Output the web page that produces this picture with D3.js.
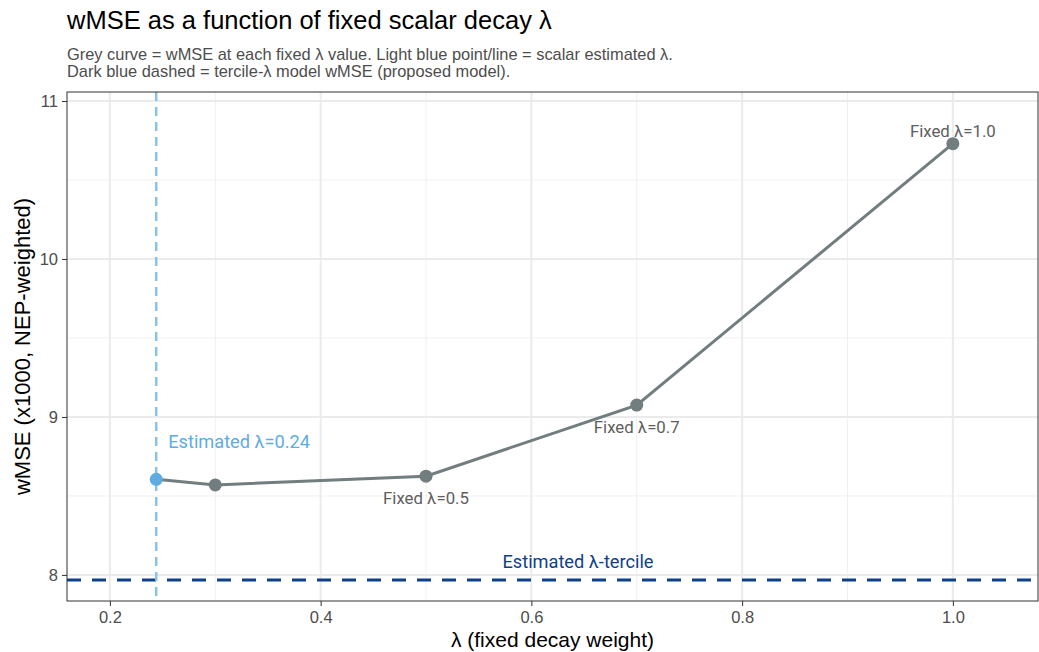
<!DOCTYPE html>
<html>
<head>
<meta charset="utf-8">
<script src="https://cdn.jsdelivr.net/npm/d3@7"></script>
<style>
  body { margin: 0; background: #fff; }
  svg { display: block; font-family: "Liberation Sans", Arial, sans-serif; }
</style>
</head>
<body>
<svg id="chart" width="1039" height="652"></svg>
<script>
// fixed lambda grid and the wMSE
const fixedLambda = [0.3, 0.5, 0.7, 1.0];
const fixedWmse = [8.57, 8.625, 9.075, 10.73];
const estLambda = [0.244];
const estWmse = [8.605];
const tercileWmse = [7.968];
const labelled = [
  { lambda: 0.5, text: "Fixed λ=0.5", pos: "below" },
  { lambda: 0.7, text: "Fixed λ=0.7", pos: "below" },
  { lambda: 1.0, text: "Fixed λ=1.0", pos: "above" }
];
const xTicks = [0.2, 0.4, 0.6, 0.8, 1.0];
const xMinor = [0.3, 0.5, 0.7, 0.9];
const yTicks = [8, 9, 10, 11];
const yMinor = [8.5, 9.5, 10.5];

const svg = d3.select("#chart");
const m = { left: 67, right: 1038, top: 92, bottom: 601 };

const x = d3.scaleLinear().domain([0.1593, 1.0808]).range([m.left, m.right]);
const y = d3.scaleLinear().domain([7.835, 11.057]).range([m.bottom, m.top]);

// curve points: scalar estimate first, then fixed lambdas
const curve = estLambda.map((l, i) => ({ lambda: l, wmse: estWmse[i] }))
  .concat(fixedLambda.map((l, i) => ({ lambda: l, wmse: fixedWmse[i] })));

const grid = svg.append("g");
grid.selectAll(".ymin").data(yMinor).join("line")
  .attr("x1", m.left).attr("x2", m.right)
  .attr("y1", d => y(d)).attr("y2", d => y(d))
  .attr("stroke", "#f0f0f0").attr("stroke-width", 1);
grid.selectAll(".xmin").data(xMinor).join("line")
  .attr("y1", m.top).attr("y2", m.bottom)
  .attr("x1", d => x(d)).attr("x2", d => x(d))
  .attr("stroke", "#f0f0f0").attr("stroke-width", 1);
grid.selectAll(".ymaj").data(yTicks).join("line")
  .attr("x1", m.left).attr("x2", m.right)
  .attr("y1", d => y(d)).attr("y2", d => y(d))
  .attr("stroke", "#ebebeb").attr("stroke-width", 2);
grid.selectAll(".xmaj").data(xTicks).join("line")
  .attr("y1", m.top).attr("y2", m.bottom)
  .attr("x1", d => x(d)).attr("x2", d => x(d))
  .attr("stroke", "#ebebeb").attr("stroke-width", 2);

// tercile-lambda model reference
svg.append("line")
  .attr("x1", m.left).attr("x2", m.right)
  .attr("y1", y(tercileWmse[0])).attr("y2", y(tercileWmse[0]))
  .attr("stroke", "#0e3f8a").attr("stroke-width", 3)
  .attr("stroke-dasharray", "14,11");

// scalar estimate vline
svg.append("line")
  .attr("x1", x(estLambda[0])).attr("x2", x(estLambda[0]))
  .attr("y1", m.top).attr("y2", m.bottom)
  .attr("stroke", "#85c1e9").attr("stroke-width", 2.4)
  .attr("stroke-dasharray", "9,6");

svg.append("path")
  .datum(curve)
  .attr("fill", "none")
  .attr("stroke", "#717d7e")
  .attr("stroke-width", 3)
  .attr("d", d3.line().x(d => x(d.lambda)).y(d => y(d.wmse)));

svg.selectAll(".pt").data(fixedLambda).join("circle")
  .attr("cx", d => x(d))
  .attr("cy", (d, i) => y(fixedWmse[i]))
  .attr("r", 6.5)
  .attr("fill", "#717d7e");

svg.append("circle")
  .attr("cx", x(estLambda[0])).attr("cy", y(estWmse[0]))
  .attr("r", 6.5).attr("fill", "#5dade2");

// annotations
const lab = svg.append("g").attr("font-family", "Roboto, sans-serif").attr("font-size", 16.8);
labelled.forEach(l => {
  const i = fixedLambda.indexOf(l.lambda);
  lab.append("text")
    .attr("x", x(l.lambda))
    .attr("y", y(fixedWmse[i]) + (l.pos === "below" ? 28 : -7))
    .attr("text-anchor", "middle")
    .attr("fill", "#5e5e5e")
    .text(l.text);
});
lab.append("text")
  .attr("x", x(estLambda[0]) + 12).attr("y", 448)
  .attr("fill", "#5dade2").attr("font-size", 18.2)
  .text("Estimated λ=0.24");
lab.append("text")
  .attr("x", 578).attr("y", y(tercileWmse[0]) - 12)
  .attr("text-anchor", "middle")
  .attr("fill", "#0e3f8a").attr("font-size", 18.2)
  .text("Estimated λ-tercile");

// panel border
svg.append("rect")
  .attr("x", m.left).attr("y", m.top)
  .attr("width", m.right - m.left).attr("height", m.bottom - m.top)
  .attr("fill", "none").attr("stroke", "#333").attr("stroke-width", 1);

// axes
const xAxis = svg.append("g").attr("transform", `translate(0,${m.bottom})`)
  .call(d3.axisBottom(x).tickValues(xTicks).tickFormat(d3.format(".1f")).tickSize(5));
const yAxis = svg.append("g").attr("transform", `translate(${m.left},0)`)
  .call(d3.axisLeft(y).tickValues(yTicks).tickFormat(d3.format("d")).tickSize(5));
[xAxis, yAxis].forEach(a => {
  a.select(".domain").remove();
  a.selectAll(".tick line").attr("stroke", "#333").attr("stroke-width", 1);
  a.selectAll(".tick text").attr("fill", "#4d4d4d")
    .attr("font-size", 16.5).attr("font-family", "Liberation Sans, Arial, sans-serif");
});
xAxis.selectAll(".tick text").attr("dy", "0.95em").attr("y", 6);
yAxis.selectAll(".tick text").attr("x", -9);

// titles
svg.append("text").attr("x", 67).attr("y", 29)
  .attr("font-size", 25.5).attr("fill", "#000")
  .text("wMSE as a function of fixed scalar decay λ");
svg.append("text").attr("x", 67).attr("y", 60)
  .attr("font-size", 16.4).attr("fill", "#4d4d4d")
  .text("Grey curve = wMSE at each fixed λ value. Light blue point/line = scalar estimated λ.");
svg.append("text").attr("x", 67).attr("y", 77)
  .attr("font-size", 16.4).attr("fill", "#4d4d4d")
  .text("Dark blue dashed = tercile-λ model wMSE (proposed model).");
svg.append("text")
  .attr("x", (m.left + m.right) / 2).attr("y", 647)
  .attr("text-anchor", "middle").attr("font-size", 21)
  .text("λ (fixed decay weight)");
svg.append("text")
  .attr("transform", `translate(30,${(m.top + m.bottom) / 2}) rotate(-90)`)
  .attr("text-anchor", "middle").attr("font-size", 22)
  .text("wMSE (x1000, NEP-weighted)");
</script>
</body>
</html>
